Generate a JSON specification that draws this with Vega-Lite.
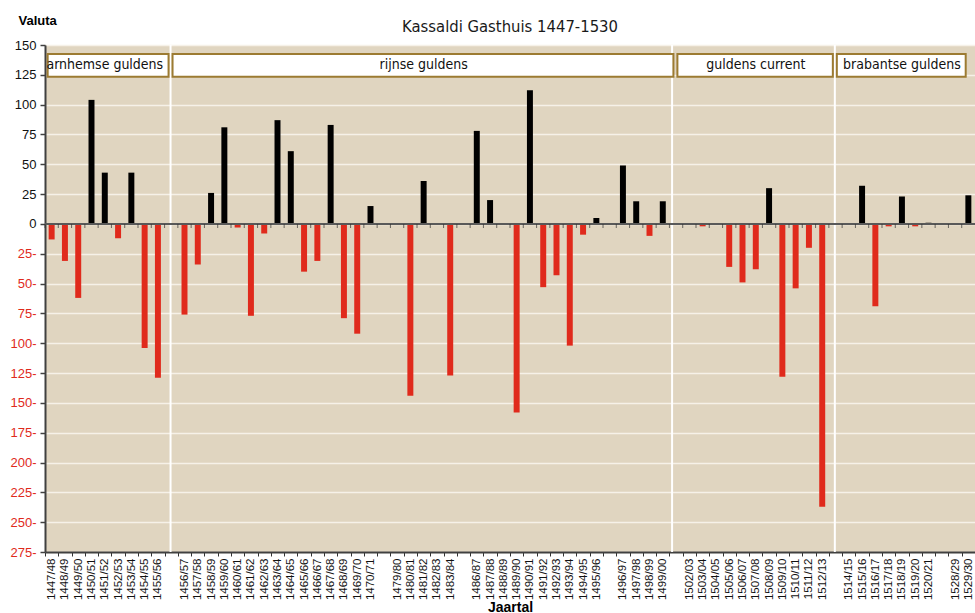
{
  "$schema": "https://vega.github.io/schema/vega-lite/v6.json",
  "width": 930,
  "height": 507,
  "autosize": {"type": "none"},
  "padding": {"left": 45, "top": 45, "right": 0, "bottom": 61},
  "background": "white",
  "config": {
    "view": {"fill": "#e0d5c0", "stroke": null},
    "font": "Liberation Sans",
    "axis": {"labelOverlap": false},
    "axisY": {
      "tickCount": 40, "labelOverlap": false, "labelBound": false, "labelFlush": false,
      "titleAngle": 0, "titleAlign": "left", "titleBaseline": "middle",
      "titleX": -27, "titleY": -25, "titleFontWeight": "bold", "titleFontSize": 13, "titleColor": "black",
      "labelFontSize": 13, "labelPadding": 4,
      "labelExpr": "datum.value < 0 ? format(-datum.value, 'd') + '-' : format(datum.value, 'd') + '\u2008'",
      "domainColor": "#404040", "domainWidth": 2, "tickColor": "#404040", "tickSize": 5, "tickWidth": 1.5,
      "grid": true, "gridColor": "#f6f1e8", "gridWidth": 1.5
    },
    "axisX": {
      "titleFontWeight": "bold", "titleFontSize": 14, "titleColor": "black",
      "titleBaseline": "top", "titleY": 48, "titleX": 465,
      "labelAngle": -90, "labelFontSize": 11.5, "labelColor": "#111", "labelPadding": 2,
      "labelExpr": "indexof(datum.label, 'gap') === 0 ? '' : datum.label",
      "tickBand": "extent", "tickSize": 4, "tickColor": "#333", "tickWidth": 1,
      "domainColor": "#404040", "domainWidth": 2, "grid": false, "labelOverlap": false
    }
  },
  "title": {"text": "Kassaldi Gasthuis 1447-1530", "font": "DejaVu Sans Condensed, Roboto Condensed, Liberation Sans Narrow, Liberation Sans", "fontSize": 16.5, "fontWeight": "normal", "color": "#1a1a1a", "anchor": "middle", "offset": -34, "baseline": "alphabetic"},
  "datasets": {
    "bars": [
      {"jaar": "1447/48", "waarde": -13}, {"jaar": "1448/49", "waarde": -31}, {"jaar": "1449/50", "waarde": -62},
      {"jaar": "1450/51", "waarde": 104}, {"jaar": "1451/52", "waarde": 43}, {"jaar": "1452/53", "waarde": -12},
      {"jaar": "1453/54", "waarde": 43}, {"jaar": "1454/55", "waarde": -104}, {"jaar": "1455/56", "waarde": -129},
      {"jaar": "gap1", "waarde": null},
      {"jaar": "1456/57", "waarde": -76}, {"jaar": "1457/58", "waarde": -34}, {"jaar": "1458/59", "waarde": 26},
      {"jaar": "1459/60", "waarde": 81}, {"jaar": "1460/61", "waarde": -3}, {"jaar": "1461/62", "waarde": -77},
      {"jaar": "1462/63", "waarde": -8}, {"jaar": "1463/64", "waarde": 87}, {"jaar": "1464/65", "waarde": 61},
      {"jaar": "1465/66", "waarde": -40}, {"jaar": "1466/67", "waarde": -31}, {"jaar": "1467/68", "waarde": 83},
      {"jaar": "1468/69", "waarde": -79}, {"jaar": "1469/70", "waarde": -92}, {"jaar": "1470/71", "waarde": 15},
      {"jaar": "gap2", "waarde": null},
      {"jaar": "1479/80", "waarde": 0}, {"jaar": "1480/81", "waarde": -144}, {"jaar": "1481/82", "waarde": 36},
      {"jaar": "1482/83", "waarde": 0}, {"jaar": "1483/84", "waarde": -127},
      {"jaar": "gap3", "waarde": null},
      {"jaar": "1486/87", "waarde": 78}, {"jaar": "1487/88", "waarde": 20}, {"jaar": "1488/89", "waarde": 0},
      {"jaar": "1489/90", "waarde": -158}, {"jaar": "1490/91", "waarde": 112}, {"jaar": "1491/92", "waarde": -53},
      {"jaar": "1492/93", "waarde": -43}, {"jaar": "1493/94", "waarde": -102}, {"jaar": "1494/95", "waarde": -9},
      {"jaar": "1495/96", "waarde": 5},
      {"jaar": "gap4", "waarde": null},
      {"jaar": "1496/97", "waarde": 49}, {"jaar": "1497/98", "waarde": 19}, {"jaar": "1498/99", "waarde": -10},
      {"jaar": "1499/00", "waarde": 19},
      {"jaar": "gap5", "waarde": null},
      {"jaar": "1502/03", "waarde": 0}, {"jaar": "1503/04", "waarde": -2}, {"jaar": "1504/05", "waarde": 0},
      {"jaar": "1505/06", "waarde": -36}, {"jaar": "1506/07", "waarde": -49}, {"jaar": "1507/08", "waarde": -38},
      {"jaar": "1508/09", "waarde": 30}, {"jaar": "1509/10", "waarde": -128}, {"jaar": "1510/11", "waarde": -54},
      {"jaar": "1511/12", "waarde": -20}, {"jaar": "1512/13", "waarde": -237},
      {"jaar": "gap6", "waarde": null},
      {"jaar": "1514/15", "waarde": 0}, {"jaar": "1515/16", "waarde": 32}, {"jaar": "1516/17", "waarde": -69},
      {"jaar": "1517/18", "waarde": -2}, {"jaar": "1518/19", "waarde": 23}, {"jaar": "1519/20", "waarde": -2},
      {"jaar": "1520/21", "waarde": 1},
      {"jaar": "gap7", "waarde": null},
      {"jaar": "1528/29", "waarde": 0}, {"jaar": "1529/30", "waarde": 24}
    ],
    "boxes": [
      {"valuta": "arnhemse guldens", "van": "1447/48", "tot": "gap1", "midden": "1451/52"},
      {"valuta": "rijnse guldens", "van": "gap1", "tot": "gap5", "midden": "1481/82"},
      {"valuta": "guldens current", "van": "gap5", "tot": "gap6", "midden": "1507/08"},
      {"valuta": "brabantse guldens", "van": "gap6", "tot": "1529/30", "midden": "1518/19"}
    ],
    "scheiding": [{"jaar": "gap1", "soort": "a"}, {"jaar": "gap5", "soort": "b"}, {"jaar": "gap6", "soort": "a"}]
  },
  "layer": [
    {
      "data": {"name": "bars"},
      "mark": {"type": "bar", "width": {"band": 0.45}},
      "encoding": {
        "x": {
          "field": "jaar", "type": "nominal", "title": "Jaartal",
          "scale": {"paddingInner": 0, "paddingOuter": 0, "domain": ["1447/48","1448/49","1449/50","1450/51","1451/52","1452/53","1453/54","1454/55","1455/56","gap1","1456/57","1457/58","1458/59","1459/60","1460/61","1461/62","1462/63","1463/64","1464/65","1465/66","1466/67","1467/68","1468/69","1469/70","1470/71","gap2","1479/80","1480/81","1481/82","1482/83","1483/84","gap3","1486/87","1487/88","1488/89","1489/90","1490/91","1491/92","1492/93","1493/94","1494/95","1495/96","gap4","1496/97","1497/98","1498/99","1499/00","gap5","1502/03","1503/04","1504/05","1505/06","1506/07","1507/08","1508/09","1509/10","1510/11","1511/12","1512/13","gap6","1514/15","1515/16","1516/17","1517/18","1518/19","1519/20","1520/21","gap7","1528/29","1529/30"]}
        },
        "y": {
          "field": "waarde", "type": "quantitative", "title": "Valuta",
          "scale": {"domain": [-275, 150], "nice": false, "zero": false},
          "axis": {
            "values": [-275,-250,-225,-200,-175,-150,-125,-100,-75,-50,-25,0,25,50,75,100,125,150],
            "tickCount": 40,
            "labelOverlap": false,
            "labelColor": {"condition": {"test": "datum.value < 0", "value": "#e02a1c"}, "value": "#111"}
          }
        },
        "color": {"condition": {"test": "datum.waarde < 0", "value": "#e02a1c"}, "value": "#000000"}
      }
    },
    {
      "data": {"name": "scheiding"},
      "transform": [{"filter": "datum.soort === 'a'"}],
      "mark": {"type": "rule", "color": "white", "strokeWidth": 2},
      "encoding": {"x": {"field": "jaar", "type": "nominal", "bandPosition": 0.45, "title": "Jaartal"}}
    },
    {
      "data": {"name": "scheiding"},
      "transform": [{"filter": "datum.soort === 'b'"}],
      "mark": {"type": "rule", "color": "white", "strokeWidth": 2},
      "encoding": {"x": {"field": "jaar", "type": "nominal", "bandPosition": 0.2, "title": "Jaartal"}}
    },
    {
      "data": {"name": "bars"},
      "mark": {"type": "rule", "color": "#5a5a5a", "strokeWidth": 1.5},
      "encoding": {"y": {"datum": 0, "title": "Valuta"}}
    },
    {
      "data": {"name": "bars"},
      "mark": {"type": "tick", "orient": "vertical", "size": 4, "thickness": 1, "color": "#333", "yOffset": 2},
      "encoding": {
        "x": {"field": "jaar", "type": "nominal", "bandPosition": 0, "title": "Jaartal"},
        "y": {"datum": 0, "title": "Valuta"}
      }
    },
    {
      "data": {"name": "boxes"},
      "transform": [{"filter": "datum.van !== '1447/48'"}],
      "mark": {"type": "rect", "fill": "white", "stroke": "#9c7b32", "strokeWidth": 2},
      "encoding": {
        "x": {"field": "van", "type": "nominal", "bandPosition": 0.6, "title": "Jaartal"},
        "x2": {"field": "tot", "bandPosition": 0.3},
        "y": {"datum": 142.5, "title": "Valuta"},
        "y2": {"datum": 123.3}
      }
    },
    {
      "data": {"name": "boxes"},
      "transform": [{"filter": "datum.van === '1447/48'"}],
      "mark": {"type": "rect", "fill": "white", "stroke": "#9c7b32", "strokeWidth": 2},
      "encoding": {
        "x": {"field": "van", "type": "nominal", "bandPosition": 0.2, "title": "Jaartal"},
        "x2": {"field": "tot", "bandPosition": 0.3},
        "y": {"datum": 142.5, "title": "Valuta"},
        "y2": {"datum": 123.3}
      }
    },
    {
      "data": {"name": "boxes"},
      "mark": {"type": "text", "font": "DejaVu Sans Condensed, Roboto Condensed, Liberation Sans Narrow, Liberation Sans", "fontSize": 14, "color": "#111", "align": "center", "baseline": "middle"},
      "encoding": {
        "x": {"field": "midden", "type": "nominal", "title": "Jaartal"},
        "y": {"datum": 133, "title": "Valuta"},
        "text": {"field": "valuta"}
      }
    }
  ]
}
